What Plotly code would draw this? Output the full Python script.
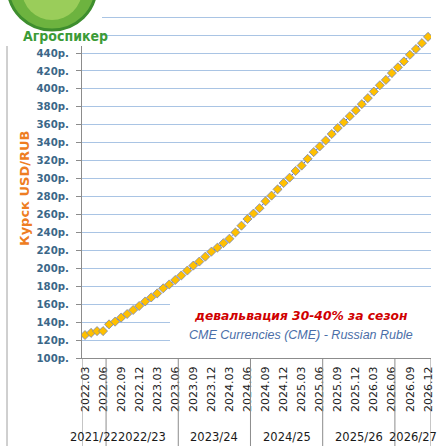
import plotly.graph_objects as go

months = [
    "2022.03", "2022.04", "2022.05", "2022.06", "2022.07", "2022.08", "2022.09", "2022.10", "2022.11", "2022.12",
    "2023.01", "2023.02", "2023.03", "2023.04", "2023.05", "2023.06", "2023.07", "2023.08", "2023.09", "2023.10",
    "2023.11", "2023.12", "2024.01", "2024.02", "2024.03", "2024.04", "2024.05", "2024.06", "2024.07", "2024.08",
    "2024.09", "2024.10", "2024.11", "2024.12", "2025.01", "2025.02", "2025.03", "2025.04", "2025.05", "2025.06",
    "2025.07", "2025.08", "2025.09", "2025.10", "2025.11", "2025.12", "2026.01", "2026.02", "2026.03", "2026.04",
    "2026.05", "2026.06", "2026.07", "2026.08", "2026.09", "2026.10", "2026.11", "2026.12",
]
usd_rub = [
    125.6, 128, 130, 130, 137.5, 140.5, 145, 149, 153.5, 158,
    163, 167.5, 172, 177.7, 182, 187, 192, 197.5, 203, 207.5,
    213, 218.5, 223, 228, 233, 240, 247.5, 255, 261, 267,
    274.7, 281, 288, 295, 301, 308.5, 314.5, 322, 329.5, 335.8,
    342.5, 349.7, 356.4, 362.7, 369.5, 376, 383, 389.7, 397, 404,
    410, 417.6, 424, 430.6, 438, 444.5, 451, 458,
]
tick_labels = [
    "2022.03", "2022.06", "2022.09", "2022.12", "2023.03", "2023.06", "2023.09", "2023.12",
    "2024.03", "2024.06", "2024.09", "2024.12", "2025.03", "2025.06", "2025.09", "2025.12",
    "2026.03", "2026.06", "2026.09", "2026.12",
]
y_ticks = [100, 120, 140, 160, 180, 200, 220, 240, 260, 280, 300, 320, 340, 360, 380, 400, 420, 440, 460, 480]
y_labels = ["100р.", "120р.", "140р.", "160р.", "180р.", "200р.", "220р.", "240р.", "260р.", "280р.",
            "300р.", "320р.", "340р.", "360р.", "380р.", "400р.", "420р.", "440р.", "", ""]
seasons = ["2021/22", "2022/23", "2023/24", "2024/25", "2025/26", "2026/27"]
season_first = ["2022.03", "2022.07", "2023.07", "2024.07", "2025.07", "2026.07"]
season_last = ["2022.06", "2023.06", "2024.06", "2025.06", "2026.06", "2026.12"]

W, H = 438, 446
L, R, T, B = 82, 7, 1, 88
pw, ph = W - L - R, H - T - B


def px(x):
    return (x - L) / pw


def py(y):
    return (H - B - y) / ph


fig = go.Figure()
fig.add_trace(go.Scatter(
    x=months, y=usd_rub, mode="lines+markers",
    line=dict(color="#3F63D0", width=1, dash="dot"),
    marker=dict(symbol="diamond", size=7, color="#FFC000",
                line=dict(color="rgba(110,130,190,0.75)", width=1)),
    showlegend=False, hoverinfo="x+y",
))

shapes = []
annotations = []
# season separators on the category axis
bounds = [months.index(s) - 0.5 for s in season_first] + [months.index(season_last[-1]) + 0.5]
for b in bounds:
    shapes.append(dict(type="line", xref="x", yref="paper", x0=b, x1=b, y0=0, y1=py(H + 2),
                       line=dict(color="#8C8C8C", width=1), layer="above"))
for name, a, z in zip(seasons, season_first, season_last):
    c = (months.index(a) + months.index(z)) / 2
    annotations.append(dict(text=name, x=c, y=py(437), xref="x", yref="paper", showarrow=False,
                            xanchor="center", yanchor="middle",
                            font=dict(family="DejaVu Sans", size=11.5, color="#1A1A1A")))

# white text box in the lower right
shapes.append(dict(type="rect", xref="paper", yref="paper", x0=px(170), x1=px(W + 5), y0=py(357), y1=py(291),
                   fillcolor="white", line=dict(width=0), layer="above"))
annotations.append(dict(text="<b><i>девальвация 30-40% за сезон</i></b>", x=px(410), y=py(316),
                        xref="paper", yref="paper", showarrow=False, xanchor="right", yanchor="middle",
                        font=dict(family="DejaVu Sans", size=12.3, color="#D00000")))
annotations.append(dict(text="<i>CME Currencies (CME) - Russian Ruble</i>", x=px(415), y=py(335),
                        xref="paper", yref="paper", showarrow=False, xanchor="right", yanchor="middle",
                        font=dict(family="Liberation Sans", size=12.5, color="#4A6EA8")))

# logo area (top-left)
shapes.append(dict(type="rect", xref="paper", yref="paper", x0=px(-5), x1=px(102), y0=py(46), y1=py(-5),
                   fillcolor="white", line=dict(width=0), layer="above"))
shapes.append(dict(type="circle", xref="paper", yref="paper", x0=px(8), x1=px(96), y0=py(30), y1=py(-55),
                   fillcolor="#6DB33F", line=dict(color="#3E8E2E", width=3), layer="above"))
shapes.append(dict(type="circle", xref="paper", yref="paper", x0=px(22), x1=px(82), y0=py(20), y1=py(-40),
                   fillcolor="#9ACD5A", line=dict(width=0), layer="above"))
annotations.append(dict(text="<b>Агроспикер</b>", x=px(65), y=py(36), xref="paper", yref="paper",
                        showarrow=False, xanchor="center", yanchor="middle",
                        font=dict(family="Liberation Sans Narrow, DejaVu Sans Condensed", size=14, color="#3C9B37")))

# chart border left
shapes.append(dict(type="line", xref="paper", yref="paper", x0=px(7), x1=px(7), y0=py(46), y1=py(H + 2),
                   line=dict(color="#A0A0A0", width=1), layer="above"))

# y-axis title
annotations.append(dict(text="<b>Курск USD/RUB</b>", x=px(24), y=py(189), xref="paper", yref="paper",
                        showarrow=False, textangle=-90, xanchor="center", yanchor="middle",
                        font=dict(family="DejaVu Sans", size=13, color="#EE7D22")))

fig.update_layout(
    width=W, height=H,
    margin=dict(l=L, r=R, t=T, b=B),
    paper_bgcolor="white", plot_bgcolor="white",
    shapes=shapes, annotations=annotations,
    xaxis=dict(
        type="category", range=[-0.5, len(months) - 0.5], automargin=False,
        tickmode="array", tickvals=tick_labels, ticktext=tick_labels, tickangle=-90,
        tickfont=dict(family="DejaVu Sans", size=11, color="#1A1A1A"), ticklabelstandoff=3,
        showgrid=False, showline=True, linecolor="#8C8C8C", linewidth=1, ticks="",
        zeroline=False,
    ),
    yaxis=dict(
        range=[100, 100 + ph / (305 / 340)], automargin=False,
        tickmode="array", tickvals=y_ticks, ticktext=y_labels,
        tickfont=dict(family="DejaVu Sans", size=10.2, color="#3B6788", weight="bold"), ticklabelstandoff=5,
        showgrid=True, gridcolor="#A9C4E4", gridwidth=1,
        showline=True, linecolor="#8C8C8C", linewidth=1, ticks="outside", ticklen=5, tickcolor="#8C8C8C",
        zeroline=False,
    ),
)
fig.write_html("out.html", config={"displayModeBar": False},
               post_script="document.body.style.margin='0';")
